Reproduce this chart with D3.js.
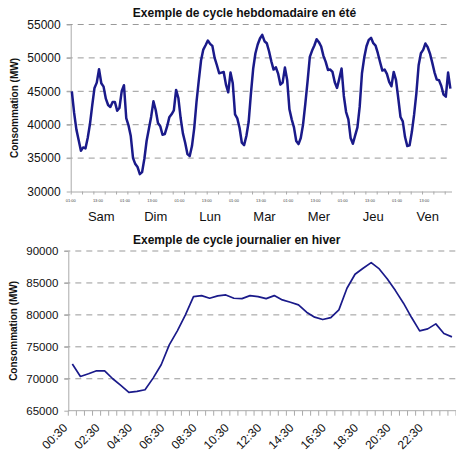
<!DOCTYPE html>
<html><head><meta charset="utf-8">
<script src="https://cdn.jsdelivr.net/npm/d3@7"></script>
<style>
body{margin:0;background:#fff}
text{font-family:"Liberation Sans",Arial,sans-serif}
</style>
</head><body>
<svg id="c" width="456" height="457"></svg>
<script>
// ---------- DATA ----------
const weekDays = ["Sam","Dim","Lun","Mar","Mer","Jeu","Ven"];
const weekHourLabels = ["01:00","13:00","01:00","13:00","01:00","13:00","01:00","13:00","01:00","13:00","01:00","13:00","01:00","13:00"];
const weekYTicks = [30000,35000,40000,45000,50000,55000];
const weeklyLoad = [
45000,41800,39300,37700,36100,36600,36450,38000,40100,42900,45500,46300,
48300,46200,45700,43900,42950,42650,43400,43400,42100,42500,45000,45900,
41000,39900,38300,35000,34100,33650,32600,32900,34900,37600,39400,41200,
43500,42200,40250,39780,38500,38600,39700,41100,41550,42130,45200,44000,
41000,38700,37300,35600,35300,36800,39500,43400,46600,49600,51250,51900,
52600,52100,51800,50000,48900,47700,47800,47900,46000,44850,47800,46200,
41550,40950,39500,37300,36950,38300,40400,44600,48370,50700,52000,52900,
53450,52500,52200,51000,49500,48250,48600,47650,46000,46300,48550,46700,
42300,40800,39600,37550,37100,38000,40000,43100,46500,50150,51100,51850,
52800,52350,51710,50300,49400,48200,48250,47900,46360,45500,46900,48400,
44300,41900,40800,38000,37150,38400,39600,42700,47700,50050,51750,52700,
53000,52200,51850,50700,49350,48100,48250,47600,46400,45750,47900,46700,
44000,41150,40500,38150,36800,36900,38900,41500,44700,48900,50700,51200,
52150,51600,50650,49300,47850,46750,46650,45800,44500,44200,47800,45400
];
const dayHours = ["00:30","01:00","01:30","02:00","02:30","03:00","03:30","04:00","04:30","05:00","05:30","06:00",
"06:30","07:00","07:30","08:00","08:30","09:00","09:30","10:00","10:30","11:00","11:30","12:00",
"12:30","13:00","13:30","14:00","14:30","15:00","15:30","16:00","16:30","17:00","17:30","18:00",
"18:30","19:00","19:30","20:00","20:30","21:00","21:30","22:00","22:30","23:00","23:30","00:00"];
const dayYTicks = [65000,70000,75000,80000,85000,90000];
const dailyLoad = [
72300,70360,70780,71250,71250,70000,68950,67860,68020,68280,70100,72190,
75310,77500,80000,82860,83020,82600,82970,83120,82600,82550,83020,82860,
82550,83020,82340,81980,81560,80420,79640,79270,79580,80780,84170,86360,
87300,88180,87190,85630,83800,81830,79580,77500,77810,78590,77080,76560
];
const titles = ["Exemple de cycle hebdomadaire en été","Exemple de cycle journalier en hiver"];
const yTitle = "Consommation (MW)";

// ---------- DRAW ----------
const svg = d3.select("#c");
svg.append("rect").attr("width",456).attr("height",457).attr("fill","#fff");
const gridCol = "#999", axisCol = "#aaa", lineCol = "#1a1a8a";

function grid(g, y, ticks, x0, x1){
  g.selectAll(".gl").data(ticks.slice(1)).join("line")
    .attr("x1",x0).attr("x2",x1).attr("y1",d=>y(d)).attr("y2",d=>y(d))
    .attr("stroke",gridCol).attr("stroke-width",1).attr("stroke-dasharray","6,5");
}
function yAxis(g, y, ticks, x0, fs){
  const ax = g.append("g").attr("transform",`translate(${x0},0)`)
    .call(d3.axisLeft(y).tickValues(ticks).tickSize(4).tickSizeOuter(0).tickPadding(6).tickFormat(d3.format("d")));
  ax.select(".domain").attr("stroke",axisCol);
  ax.selectAll(".tick line").attr("stroke",axisCol);
  ax.selectAll("text").attr("font-size",fs).attr("fill","#111").attr("font-family","Liberation Sans, Arial, sans-serif");
}

// ---- Top chart ----
{
  const x0 = 70.7, x1 = 451.5;
  const xw = d3.scaleLinear().domain([0, weeklyLoad.length]).range([x0, x1]);
  const y = d3.scaleLinear().domain([30000,55000]).range([191.5, 24.5]);
  const g = svg.append("g");
  grid(g, y, weekYTicks, x0-4, x1);
  const ax = g.append("g").attr("transform",`translate(0,${y(30000)})`)
    .call(d3.axisBottom(xw).tickValues(d3.range(0, weeklyLoad.length+1, 5)).tickSize(3).tickSizeOuter(0).tickFormat(""));
  ax.select(".domain").attr("stroke",axisCol);
  ax.selectAll(".tick line").attr("stroke",axisCol);
  yAxis(g, y, weekYTicks, x0, 12);
  g.selectAll(".hl").data(weekHourLabels).join("text")
    .attr("x",(d,i)=>xw(i*12)).attr("y",201.5).attr("text-anchor","middle")
    .attr("font-size",4).attr("fill","#444").text(d=>d);
  g.selectAll(".dl").data(weekDays).join("text")
    .attr("x",(d,i)=>xw(i*24+13.5)).attr("y",220.5).attr("text-anchor","middle")
    .attr("font-size",13).attr("fill","#111").text(d=>d);
  g.append("path").datum(weeklyLoad)
    .attr("d", d3.line().x((d,i)=>xw(i+0.5)).y(d=>y(d)).curve(d3.curveLinear))
    .attr("fill","none").attr("stroke",lineCol).attr("stroke-width",2.5).attr("stroke-linejoin","round");
  g.append("text").attr("x",244.5).attr("y",17).attr("text-anchor","middle")
    .attr("font-size",12).attr("font-weight","bold").attr("fill","#111").text(titles[0]);
  g.append("text").attr("transform",`translate(18,${(y(30000)+y(55000))/2}) rotate(-90)`)
    .attr("text-anchor","middle").attr("font-size",10).attr("font-weight","bold").attr("fill","#111").text(yTitle);
}

// ---- Bottom chart ----
{
  const x0 = 68.3, x1 = 456;
  const xb = d3.scaleBand().domain(dayHours).range([x0, x1]);
  const y = d3.scaleLinear().domain([65000,90000]).range([410.7, 251]);
  const g = svg.append("g");
  grid(g, y, dayYTicks, x0-4, x1);
  const bounds = dayHours.map(d=>xb(d)).concat([x1]);
  g.append("line").attr("x1",x0).attr("x2",x1).attr("y1",y(65000)).attr("y2",y(65000)).attr("stroke",axisCol);
  g.selectAll(".tk").data(bounds).join("line")
    .attr("x1",d=>d).attr("x2",d=>d).attr("y1",y(65000)).attr("y2",y(65000)+5).attr("stroke",axisCol);
  yAxis(g, y, dayYTicks, x0, 11.5);
  const shown = dayHours.filter((d,i)=>i%4===0);
  g.selectAll(".xl").data(shown).join("text")
    .attr("transform",d=>`translate(${xb(d)+xb.bandwidth()/2-10},${y(65000)+12}) rotate(-45)`)
    .attr("text-anchor","end").attr("dy","0.7em").attr("font-size",12).attr("fill","#111").text(d=>d);
  g.append("path").datum(dailyLoad)
    .attr("d", d3.line().x((d,i)=>xb(dayHours[i])+xb.bandwidth()/2).y(d=>y(d)))
    .attr("fill","none").attr("stroke",lineCol).attr("stroke-width",1.7).attr("stroke-linejoin","round");
  g.append("text").attr("x",236.7).attr("y",244.3).attr("text-anchor","middle")
    .attr("font-size",12).attr("font-weight","bold").attr("fill","#111").text(titles[1]);
  g.append("text").attr("transform",`translate(17,${(y(65000)+y(90000))/2}) rotate(-90)`)
    .attr("text-anchor","middle").attr("font-size",10).attr("font-weight","bold").attr("fill","#111").text(yTitle);
}
</script>
</body></html>
